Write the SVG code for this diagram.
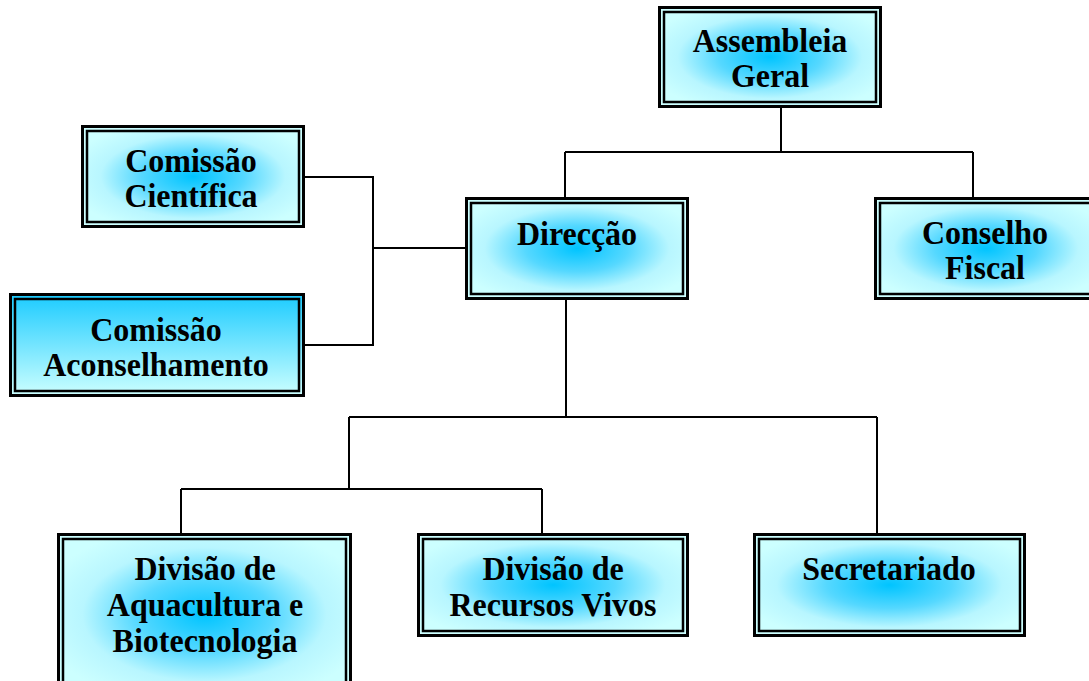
<svg xmlns="http://www.w3.org/2000/svg" width="1089" height="681" viewBox="0 0 1089 681">
<style>
.outer{stroke:#000;stroke-width:3}
.inner{fill:none;stroke:#000;stroke-width:2.5}
.t{font-weight:bold;font-size:32px;text-anchor:middle;fill:#000}
.c{fill:none;stroke:#000;stroke-width:2}
</style>
<defs>
<radialGradient id="rg" cx="50%" cy="50%" r="58%">
<stop offset="0" stop-color="#00c4ff"/>
<stop offset="0.4" stop-color="#55d8ff"/>
<stop offset="0.72" stop-color="#b8f6ff"/>
<stop offset="1" stop-color="#ccffff"/>
</radialGradient>
<linearGradient id="lg" x1="0" y1="0" x2="0" y2="1">
<stop offset="0" stop-color="#1ccbff"/>
<stop offset="1" stop-color="#ccffff"/>
</linearGradient>
</defs>
<rect width="1089" height="681" fill="#fff"/>
<g id="connectors">
<path class="c" d="M781 108V152M565 152H973M565 152V198M973 152V198"/>
<path class="c" d="M305 177H373V345H305M373 248H465"/>
<path class="c" d="M566 299V417M349 417H877M349 417V489M181 489H542M181 489V533M542 489V533M877 417V533"/>
</g>
<g font-family="'Liberation Serif', 'Times New Roman', Times, serif">
<g id="assembleia">
<rect class="outer" x="659.5" y="7.5" width="221" height="99" fill="url(#rg)"/>
<rect class="inner" x="664" y="12" width="212" height="90"/>
<text class="t" transform="translate(770 52) scale(1 1.04)">Assembleia</text>
<text class="t" transform="translate(770 87) scale(1 1.04)">Geral</text>
</g>
<g id="comissao-cientifica">
<rect class="outer" x="82.5" y="126.5" width="221" height="100" fill="url(#rg)"/>
<rect class="inner" x="87" y="131" width="212" height="91"/>
<text class="t" transform="translate(191 172) scale(1 1.04)">Comissão</text>
<text class="t" transform="translate(191 207) scale(1 1.04)">Científica</text>
</g>
<g id="direccao">
<rect class="outer" x="466.5" y="198.5" width="221" height="100" fill="url(#rg)"/>
<rect class="inner" x="471" y="203" width="212" height="91"/>
<text class="t" transform="translate(577 245) scale(1 1.04)">Direcção</text>
</g>
<g id="conselho-fiscal">
<rect class="outer" x="875.5" y="198.5" width="221" height="100" fill="url(#rg)"/>
<rect class="inner" x="880" y="203" width="212" height="91"/>
<text class="t" transform="translate(985 244) scale(1 1.04)">Conselho</text>
<text class="t" transform="translate(985 279) scale(1 1.04)">Fiscal</text>
</g>
<g id="comissao-aconselhamento">
<rect class="outer" x="10.5" y="294.5" width="293" height="101" fill="url(#lg)"/>
<rect class="inner" x="15" y="299" width="284" height="92"/>
<text class="t" transform="translate(156 341) scale(1 1.04)">Comissão</text>
<text class="t" transform="translate(156 376) scale(1 1.04)">Aconselhamento</text>
</g>
<g id="aquacultura">
<rect class="outer" x="58.5" y="534.5" width="292" height="160" fill="url(#rg)"/>
<rect class="inner" x="63" y="539" width="283" height="151"/>
<text class="t" transform="translate(205 580) scale(1 1.04)">Divisão de</text>
<text class="t" transform="translate(205 616) scale(1 1.04)">Aquacultura e</text>
<text class="t" transform="translate(205 652) scale(1 1.04)">Biotecnologia</text>
</g>
<g id="recursos-vivos">
<rect class="outer" x="418.5" y="534.5" width="269" height="101" fill="url(#rg)"/>
<rect class="inner" x="423" y="539" width="260" height="92"/>
<text class="t" transform="translate(553 580) scale(1 1.04)">Divisão de</text>
<text class="t" transform="translate(553 616) scale(1 1.04)">Recursos Vivos</text>
</g>
<g id="secretariado">
<rect class="outer" x="754.5" y="534.5" width="270" height="101" fill="url(#rg)"/>
<rect class="inner" x="759" y="539" width="261" height="92"/>
<text class="t" transform="translate(889 580) scale(1 1.04)">Secretariado</text>
</g>
</g>
</svg>
